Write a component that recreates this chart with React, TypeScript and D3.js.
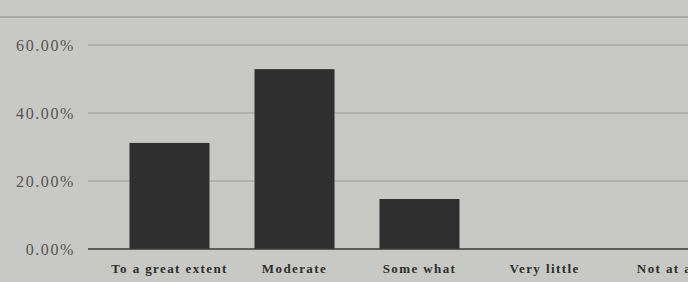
import React from 'react';
import * as d3 from 'd3';

// extent of agreement (share of respondents)
const categories = ['To a great extent', 'Moderate', 'Some what', 'Very little', 'Not at all'];
const shares = [0.312, 0.529, 0.147, 0, 0];
const yTicks = [0, 0.2, 0.4, 0.6];

const App: React.FC = () => {
    const width = 688;
    const height = 282;

    const x = d3.scaleBand<string>()
        .domain(categories)
        .range([107, 732])
        .paddingInner(0.36)
        .paddingOuter(0.18);

    const y = d3.scaleLinear()
        .domain([0, 0.6])
        .range([249, 45]);

    const fmt = (v: number) => (v * 100).toFixed(2) + '%';

    return (
        <div style={{position: 'fixed', left: 0, top: 0}}>
            <svg width={width} height={height} style={{display: 'block', overflow: 'hidden'}}>
                <rect width={width} height={height} fill="#c8c8c5"/>
                {/* Rahmen oben */}
                <line x1={0} x2={width} y1={17} y2={17} stroke="#8c8c89" strokeWidth={1.2}/>
                {/* Gitterlinien */}
                {yTicks.filter(t => t > 0).map(t => (
                    <line key={t} x1={88} x2={width} y1={y(t)} y2={y(t)} stroke="#979794" strokeWidth={1}/>
                ))}
                {/* Balken */}
                {categories.map((c, i) => (
                    shares[i] > 0 && (
                        <rect key={c}
                              x={x(c)!}
                              y={y(shares[i])}
                              width={x.bandwidth()}
                              height={y(0) - y(shares[i])}
                              fill="#2f2f2f"/>
                    )
                ))}
                {/* Grundlinie */}
                <line x1={88} x2={width} y1={y(0)} y2={y(0)} stroke="#3a3a3a" strokeWidth={1.5}/>
                {/* y-Achse */}
                {yTicks.map(t => (
                    <text key={t}
                          x={75}
                          y={y(t)}
                          dy="0.35em"
                          textAnchor="end"
                          fontFamily="Liberation Serif, serif"
                          fontSize={16}
                          letterSpacing={1.6}
                          fill="#555553">
                        {fmt(t)}
                    </text>
                ))}
                {/* x-Achse */}
                {categories.map(c => (
                    <text key={c}
                          x={x(c)! + x.bandwidth() / 2}
                          y={268}
                          dy="0.35em"
                          textAnchor="middle"
                          fontFamily="Liberation Serif, serif"
                          fontSize={13}
                          fontWeight="bold"
                          letterSpacing={1.4}
                          fill="#2e2e2c">
                        {c}
                    </text>
                ))}
            </svg>
        </div>
    );
};

export default App;
